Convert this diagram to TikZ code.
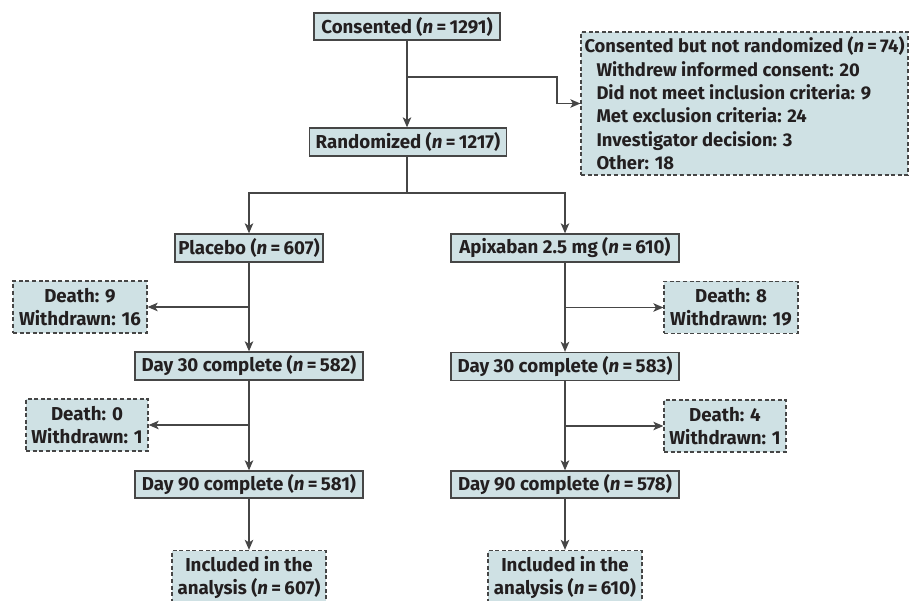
\documentclass[tikz,border=0pt]{standalone}
\usepackage{fontspec}
\setmainfont{Fira Sans}
\usetikzlibrary{arrows.meta}
\definecolor{boxfill}{RGB}{207,225,228}
\definecolor{edge}{RGB}{70,70,70}
\definecolor{ink}{RGB}{35,31,32}
\newcommand{\myn}{(\textit{n}\hspace{0.18em}=\hspace{0.18em}}
\begin{document}
\begin{tikzpicture}[x=1pt,y=-1pt,
  solidbox/.style={draw=edge, line width=1.3pt, fill=boxfill, text=ink,
    font=\bfseries\fontsize{18.7}{23}\selectfont, inner sep=0pt, align=center,
    minimum height=28pt},
  dashbox/.style={solidbox, dash pattern=on 4pt off 2.6pt},
  ln/.style={draw=edge, line width=1.3pt},
  arr/.style={ln, -{Stealth[length=10pt,width=8.5pt,inset=2.5pt]}}]
\useasboundingbox (0,0) rectangle (910,601);
% top
\node[solidbox, minimum width=186pt, minimum height=27pt] (cons) at (407,26.5) {Consented \myn1291)};
\node[solidbox, minimum width=197pt] (rand) at (408,142) {Randomized \myn1217)};
\node[dashbox, minimum width=327pt, minimum height=143pt,
  align=left, font=\bfseries\fontsize{18.4}{23.4}\selectfont] (excl) at (744.5,103.5)
  {Consented but not randomized \myn74)\\
   \hspace*{12pt}Withdrew informed consent: 20\\
   \hspace*{12pt}Did not meet inclusion criteria: 9\\
   \hspace*{12pt}Met exclusion criteria: 24\\
   \hspace*{12pt}Investigator decision: 3\\
   \hspace*{12pt}Other: 18};
\coordinate (b1) at (407,77);
\coordinate (k1) at (557,77);
\coordinate (b2) at (407,193);
% arms
\node[solidbox, minimum width=148pt] (plac) at (249,248) {Placebo \myn607)};
\node[solidbox, minimum width=228pt] (apix) at (565,248) {Apixaban 2.5 mg \myn610)};
\node[dashbox, minimum width=134pt, minimum height=52pt] (d9) at (80,307) {Death: 9\\Withdrawn: 16};
\node[dashbox, minimum width=134pt, minimum height=52pt] (d8) at (731,307.5) {Death: 8\\Withdrawn: 19};
\node[solidbox, minimum width=228pt] (t30l) at (249,366) {Day 30 complete \myn582)};
\node[solidbox, minimum width=228pt] (t30r) at (565,366.5) {Day 30 complete \myn583)};
\node[dashbox, minimum width=122pt, minimum height=52pt] (d0) at (87,425) {Death: 0\\Withdrawn: 1};
\node[dashbox, minimum width=122pt, minimum height=52pt] (d4) at (725,426) {Death: 4\\Withdrawn: 1};
\node[solidbox, minimum width=228pt, minimum height=27pt] (t90l) at (249,484.5) {Day 90 complete \myn581)};
\node[solidbox, minimum width=228pt, minimum height=27pt] (t90r) at (565,484.5) {Day 90 complete \myn578)};
\node[dashbox, minimum width=154pt, minimum height=53pt] (incl) at (249,577) {Included in the\\analysis \myn607)};
\node[dashbox, minimum width=154pt, minimum height=53pt] (incr) at (565,577) {Included in the\\analysis \myn610)};
% connectors
\draw[arr] (cons.south -| b1) -- (rand.north -| b1);
\draw[arr] (b1) -- (k1) |- (excl.west);
\draw[ln] (rand.south -| b2) -- (b2);
\draw[arr] (b2) -| (plac.north);
\draw[arr] (b2) -| (apix.north);
\draw[arr] (plac.south) -- (t30l.north);
\draw[arr] (plac.south |- d9.east) -- (d9.east);
\draw[arr] (apix.south) -- (t30r.north);
\draw[arr] (apix.south |- d8.west) -- (d8.west);
\draw[arr] (t30l.south) -- (t90l.north);
\draw[arr] (t30l.south |- d0.east) -- (d0.east);
\draw[arr] (t30r.south) -- (t90r.north);
\draw[arr] (t30r.south |- d4.west) -- (d4.west);
\draw[arr] (t90l.south) -- (incl.north);
\draw[arr] (t90r.south) -- (incr.north);
\end{tikzpicture}
\end{document}
